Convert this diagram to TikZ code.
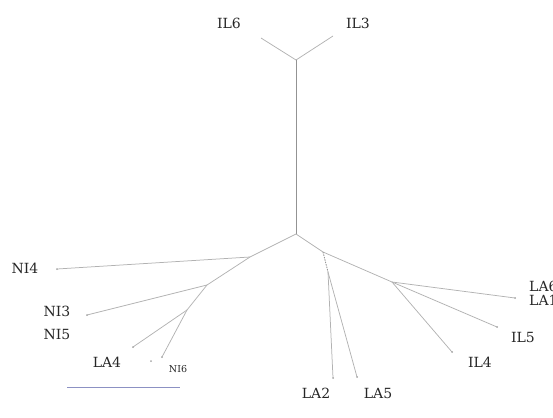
\documentclass[tikz,border=0pt]{standalone}
\usepackage{fontspec}
\setmainfont{DejaVu Serif}
\definecolor{scalebar}{RGB}{140,145,195}
\begin{document}
\begin{tikzpicture}[x=1pt,y=-1pt,
  br/.style={draw=gray!60,line width=0.75pt},
  trunk/.style={draw=gray!85,line width=1pt},
  lbl/.style={font=\fontsize{14}{15}\selectfont,text=black!85,inner sep=0pt},
  slbl/.style={font=\fontsize{9.5}{10}\selectfont,text=black!85,inner sep=0pt}]
\useasboundingbox (0,0) rectangle (553,417);
% internal nodes
\coordinate (top) at (296,60);
\coordinate (root) at (296,234);
\coordinate (nL1) at (250,257);
\coordinate (nL2) at (207,285);
\coordinate (nL3) at (187,310);
\coordinate (nR1) at (323,252);
\coordinate (nR2) at (328,272);
\coordinate (nR3) at (392,282);
% leaves
\coordinate (lIL6) at (261,38);
\coordinate (lIL3) at (333,36);
\coordinate (lNI4) at (57,269);
\coordinate (lNI3) at (87,315);
\coordinate (lLA4) at (133,347);
\coordinate (lNI6) at (162,357);
\coordinate (lLA2) at (333,378);
\coordinate (lLA5) at (357,377);
\coordinate (lLA6) at (515,298);
\coordinate (lIL5) at (497,327);
\coordinate (lIL4) at (452,352);
% labels
\node[lbl] (tIL6) at (229,23) {IL6};
\node[lbl] (tIL3) at (358,23) {IL3};
\node[lbl] (tNI4) at (25,268) {NI4};
\node[lbl] (tNI3) at (57,311) {NI3};
\node[lbl] (tNI5) at (57,334) {NI5};
\node[lbl] (tLA4) at (107,362) {LA4};
\node[slbl] (tNI6) at (178,369) {NI6};
\node[lbl] (tLA2) at (316,393) {LA2};
\node[lbl] (tLA5) at (378,393) {LA5};
\node[lbl] (tIL4) at (480,362) {IL4};
\node[lbl] (tIL5) at (523,337) {IL5};
\node[lbl,anchor=west] (tLA6) at (529,286) {LA6};
\node[lbl,anchor=west] (tLA1) at (529,300) {LA1};
% branches
\draw[br] (top) -- (lIL6);
\draw[br] (top) -- (lIL3);
\draw[trunk] (top) -- (root);
\draw[br] (root) -- (nL1) -- (nL2) -- (nL3);
\draw[br] (nL1) -- (lNI4);
\draw[br] (nL2) -- (lNI3);
\draw[br] (nL3) -- (lLA4);
\draw[br] (nL3) -- (lNI6);
\draw[br] (root) -- (nR1) -- (nR3);
\draw[gray!90,line width=0.75pt,dash pattern=on 1.5pt off 1pt] (nR1) -- (nR2);
\draw[br] (nR2) -- (lLA2);
\draw[br] (nR2) -- (lLA5);
\draw[br] (nR3) -- (lLA6);
\draw[br] (nR3) -- (lIL5);
\draw[br] (nR3) -- (lIL4);
% small end marks
\foreach \p in {lNI4,lNI3,lLA4,lNI6,lLA2,lLA5,lLA6,lIL5,lIL4}
  \fill[gray!70] (\p) circle (1pt);
\fill[gray!70] (151,361) circle (1pt);
% scale bar
\coordinate (sb1) at (67,387);
\coordinate (sb2) at (180,387);
\draw[draw=scalebar,line width=0.9pt] (sb1) -- (sb2);
\end{tikzpicture}
\end{document}
